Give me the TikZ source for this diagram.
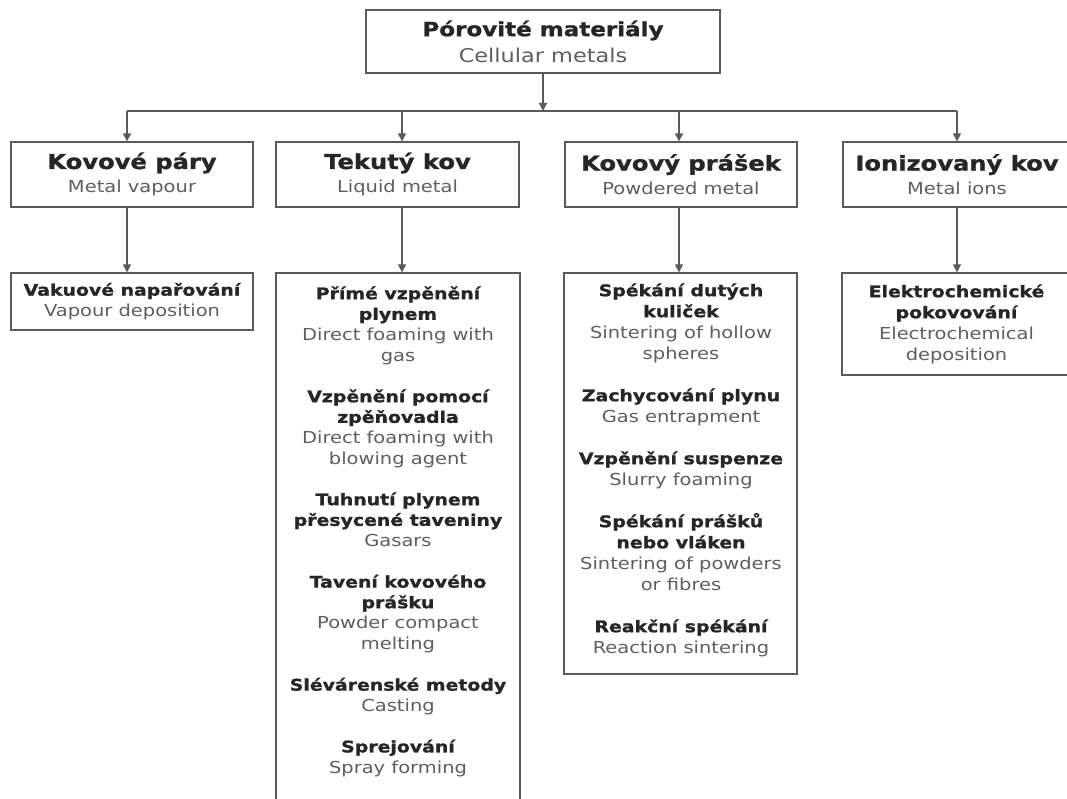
\documentclass[tikz,border=0pt]{standalone}
\usepackage{fontspec}
\setmainfont{DejaVu Sans}[FakeStretch=1.18, BoldFeatures={FakeStretch=1.18, FakeBold=1.2}]
\usetikzlibrary{arrows.meta,calc}
\definecolor{linec}{HTML}{5A5A5A}
\definecolor{boldc}{HTML}{262626}
\definecolor{regc}{HTML}{5E5E5E}
\newcommand{\bt}[2]{{\fontsize{#1}{#1}\selectfont\bfseries\color{boldc}#2}}
\newcommand{\rt}[2]{{\fontsize{#1}{#1}\selectfont\color{regc}#2}}
\newcommand{\firstln}{\rule{0pt}{16pt}}
\tikzset{
  box/.style={draw=linec, line width=1.3pt, rectangle, inner sep=0pt, align=center, fill=white},
  topbox/.style={box, font=\fontsize{19}{26}\selectfont},
  catbox/.style={box, font=\fontsize{16.5}{24}\selectfont},
  methbox/.style={box, font=\fontsize{16.5}{21}\selectfont},
  listtext/.style={inner sep=0pt, align=center, font=\fontsize{16.5}{20.6}\selectfont, anchor=north},
  conn/.style={draw=linec, line width=1.3pt},
  arr/.style={conn, -{Triangle[length=8pt,width=8pt]}}
}
\begin{document}
\begin{tikzpicture}[x=1pt,y=-1pt]
\useasboundingbox (0,0) rectangle (1067,799);
% top
\node[topbox, minimum width=354pt, minimum height=63pt] (top) at (543,41.5)
  {\bt{19.5}{Pórovité materiály}\\\rt{19}{Cellular metals}};
% level 1
\node[catbox, minimum width=242pt, minimum height=65pt] (a1) at (132,174.5)
  {\bt{20.5}{Kovové páry}\\\rt{16.5}{Metal vapour}};
\node[catbox, minimum width=243pt, minimum height=65pt] (b1) at (397.5,174.5)
  {\bt{20.5}{Tekutý kov}\\\rt{16.5}{Liquid metal}};
\node[catbox, minimum width=232pt, minimum height=65pt] (c1) at (681,174.5)
  {\bt{20.5}{Kovový prášek}\\\rt{16.5}{Powdered metal}};
\node[catbox, minimum width=228pt, minimum height=65pt] (d1) at (957,174.5)
  {\bt{20.5}{Ionizovaný kov}\\\rt{16.5}{Metal ions}};
% level 2
\node[methbox, minimum width=242pt, minimum height=57pt] (a2) at (132,301.5)
  {\bt{16}{Vakuové napařování}\\\rt{16.5}{Vapour deposition}};
\node[box, minimum width=244pt, minimum height=547pt] (b2) at (398,546.5) {};
\node[box, minimum width=233pt, minimum height=401pt] (c2) at (680.5,473.5) {};
\node[methbox, minimum width=229pt, minimum height=102pt] (d2) at (956.5,324)
  {\bt{16}{Elektrochemické}\\\bt{16}{pokovování}\\\rt{16.5}{Electrochemical}\\\rt{16.5}{deposition}};
% list texts
\node[listtext] (b2t) at (398,283)
  {\firstln\bt{16}{Přímé vzpěnění}\\\bt{16}{plynem}\\\rt{16.5}{Direct foaming with}\\\rt{16.5}{gas}\\[20.6pt]
   \bt{16}{Vzpěnění pomocí}\\\bt{16}{zpěňovadla}\\\rt{16.5}{Direct foaming with}\\\rt{16.5}{blowing agent}\\[20.6pt]
   \bt{16}{Tuhnutí plynem}\\\bt{16}{přesycené taveniny}\\\rt{16.5}{Gasars}\\[20.6pt]
   \bt{16}{Tavení kovového}\\\bt{16}{prášku}\\\rt{16.5}{Powder compact}\\\rt{16.5}{melting}\\[20.6pt]
   \bt{16}{Slévárenské metody}\\\rt{16.5}{Casting}\\[20.6pt]
   \bt{16}{Sprejování}\\\rt{16.5}{Spray forming}};
\node[listtext, font=\fontsize{16.5}{21}\selectfont] (c2t) at (681,280)
  {\firstln\bt{16}{Spékání dutých}\\\bt{16}{kuliček}\\\rt{16.5}{Sintering of hollow}\\\rt{16.5}{spheres}\\[21pt]
   \bt{16}{Zachycování plynu}\\\rt{16.5}{Gas entrapment}\\[21pt]
   \bt{16}{Vzpěnění suspenze}\\\rt{16.5}{Slurry foaming}\\[21pt]
   \bt{16}{Spékání prášků}\\\bt{16}{nebo vláken}\\\rt{16.5}{Sintering of powders}\\\rt{16.5}{or fibres}\\[21pt]
   \bt{16}{Reakční spékání}\\\rt{16.5}{Reaction sintering}};
% connectors
\coordinate (j) at (543,111);
\coordinate (ja) at (127,111);
\coordinate (jb) at (402,111);
\coordinate (jc) at (679,111);
\coordinate (jd) at (957,111);
\draw[arr] (top.south -| j) -- (j);
\draw[conn] (ja) -- (jd);
\draw[arr] (ja) -- (ja |- a1.north);
\draw[arr] (jb) -- (jb |- b1.north);
\draw[arr] (jc) -- (jc |- c1.north);
\draw[arr] (jd) -- (jd |- d1.north);
\draw[arr] (a1.south -| ja) -- (a2.north -| ja);
\draw[arr] (b1.south -| jb) -- (b2.north -| jb);
\draw[arr] (c1.south -| jc) -- (c2.north -| jc);
\draw[arr] (d1.south -| jd) -- (d2.north -| jd);
\end{tikzpicture}
\end{document}
